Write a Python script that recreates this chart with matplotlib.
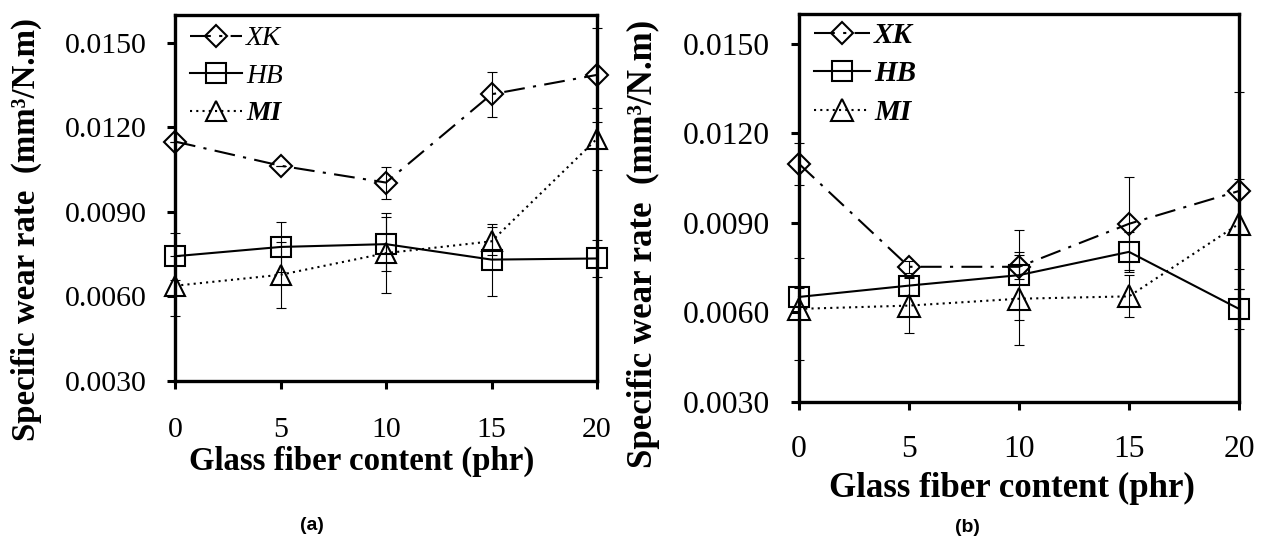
import matplotlib
matplotlib.use("Agg")
import matplotlib.pyplot as plt

# glass fiber content (phr)
fiber = [0, 5, 10, 15, 20]

# panel (a)
xk_a = [0.01150, 0.01064, 0.01004, 0.01318, 0.01387]
xk_a_err = [0.0, 0.0, 0.00057, 0.00081, 0.00166]
hb_a = [0.00742, 0.00775, 0.00785, 0.00730, 0.00734]
hb_a_err = [0.00083, 0.00088, 0.00096, 0.00128, 0.00065]
mi_a = [0.00637, 0.00676, 0.00753, 0.00795, 0.01160]
mi_a_err = [0.00107, 0.00118, 0.00142, 0.0005, 0.0011]

# panel (b)
xk_b = [0.01098, 0.00753, 0.00753, 0.00897, 0.01007]
xk_b_err = [0.0007, 0.0002, 0.0004, 0.00156, 0.0033]
hb_b = [0.00652, 0.00690, 0.00725, 0.00803, 0.00612]
hb_b_err = [0.0003, 0.0003, 0.0015, 0.00067, 0.00066]
mi_b = [0.00612, 0.00623, 0.00646, 0.00654, 0.00897]
mi_b_err = [0.0017, 0.00092, 0.00156, 0.0007, 0.0015]

yticks = [0.0030, 0.0060, 0.0090, 0.0120, 0.0150]
ytick_labels = ["0.0030", "0.0060", "0.0090", "0.0120", "0.0150"]

serif = "Liberation Serif"
plt.rcParams["font.family"] = serif

fig = plt.figure(figsize=(12.63, 5.4), dpi=100)
ax_a = fig.add_axes([0.13856, 0.29537, 0.33413, 0.67685])
ax_b = fig.add_axes([0.63262, 0.25556, 0.34838, 0.71852])

dashdot = (0, (10, 4, 1.5, 4))
dotted = (0, (1, 2))


def draw(ax, xk, xk_err, hb, hb_err, mi, mi_err, fs, ms, legend_weights, lab_pos, xlab_pos,
         tickpad_y, tickpad_x, leg_anchor, leg_spacing):
    for y, e in [(xk, xk_err), (hb, hb_err), (mi, mi_err)]:
        ax.errorbar(fiber, y, yerr=e, fmt="none", ecolor="black", elinewidth=0.8,
                    capsize=3.5, capthick=0.8, clip_on=False, zorder=2)
    ax.plot(fiber, xk, color="black", lw=1.5, ls=dashdot, marker="D", ms=ms * 0.78,
            mfc="none", mec="black", mew=1.5, clip_on=False, zorder=3, label="XK")
    ax.plot(fiber, hb, color="black", lw=1.5, ls="-", marker="s", ms=ms,
            mfc="none", mec="black", mew=1.5, clip_on=False, zorder=3, label="HB")
    ax.plot(fiber, mi, color="black", lw=1.5, ls=dotted, marker="^", ms=ms * 1.05,
            mfc="none", mec="black", mew=1.5, clip_on=False, zorder=3, label="MI")

    ax.set_xlim(0, 20)
    ax.set_ylim(0.0030, 0.0160)
    ax.set_xticks(fiber)
    ax.set_xticklabels([str(v) for v in fiber])
    ax.set_yticks(yticks)
    ax.set_yticklabels(ytick_labels)
    for s in ax.spines.values():
        s.set_linewidth(2.4)
    ax.tick_params(axis="both", direction="out", length=6, width=2.2, labelsize=fs)
    ax.tick_params(axis="y", pad=tickpad_y)
    ax.tick_params(axis="x", pad=tickpad_x)

    ax.set_xlabel("Glass fiber content (phr)", fontsize=fs * 1.1, fontweight="bold")
    ax.xaxis.set_label_coords(*xlab_pos)
    ax.set_ylabel("Specific wear rate  (mm\u00b3/N.m)", fontsize=fs * 1.1, fontweight="bold")
    ax.yaxis.set_label_coords(*lab_pos)

    leg = ax.legend(loc="upper left", bbox_to_anchor=leg_anchor, frameon=False,
                    handlelength=1.9, handletextpad=0.15, labelspacing=leg_spacing,
                    borderpad=0, borderaxespad=0, prop={"family": serif, "size": fs * 0.92})
    for t, w in zip(leg.get_texts(), legend_weights):
        t.set_fontstyle("italic")
        t.set_fontweight(w)


draw(ax_a, xk_a, xk_a_err, hb_a, hb_a_err, mi_a, mi_a_err, 21.5, 14,
     ["normal", "normal", "bold"], (-0.315, 0.4145), (0.442, -0.179), 14, 20,
     (0.035, 0.97), 0.45)
draw(ax_b, xk_b, xk_b_err, hb_b, hb_b_err, mi_b, mi_b_err, 22.8, 15,
     ["bold", "bold", "bold"], (-0.316, 0.407), (0.485, -0.180), 15, 18,
     (0.035, 0.98), 0.4)

fig.text(312 / 1263, 1 - 525 / 540, "(a)", ha="center", va="center",
         fontsize=14, fontweight="bold", family="Liberation Sans")
fig.text(967 / 1263, 1 - 527 / 540, "(b)", ha="center", va="center",
         fontsize=14, fontweight="bold", family="Liberation Sans")

fig.savefig("out.png", dpi=100)
